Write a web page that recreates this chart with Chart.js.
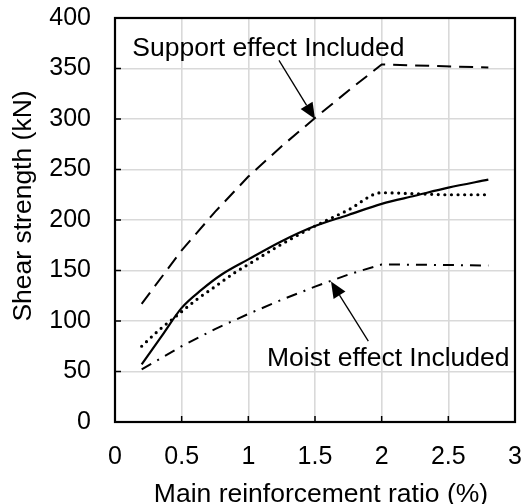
<!DOCTYPE html>
<html>
<head>
<meta charset="utf-8">
<script src="https://cdn.jsdelivr.net/npm/chart.js@4.4.0/dist/chart.umd.min.js"></script>
<style>
  body { margin: 0; background: #fff; }
  canvas { display: block; }
</style>
</head>
<body>
<canvas id="myChart" width="522" height="504"></canvas>
<script>
// values
const ratioSupport = [0.2, 0.5, 0.75, 1, 1.25, 1.5, 1.75, 2, 2.8];
const strengthSupport = [117, 170, 208, 243, 273, 301, 328, 354, 351];

const ratioBase = [0.2, 0.35, 0.5, 0.65, 0.8, 1, 1.25, 1.5, 1.75, 2, 2.25, 2.5, 2.8];
const strengthBase = [57, 85, 113, 131, 146, 161, 179, 194, 205, 216, 224, 232, 240];

const ratioDot = [0.2, 0.33, 0.47, 0.61, 0.75, 0.9, 1, 1.25, 1.5, 1.75, 2, 2.25, 2.5, 2.8];
const strengthDot = [75, 91, 106, 121, 134, 148, 156, 176, 194, 210, 227, 226, 225, 225];

const ratioMoist = [0.2, 0.5, 0.75, 1, 1.25, 1.5, 1.75, 2, 2.8];
const strengthMoist = [52, 75, 92, 107, 121, 134, 146, 156, 155];

const xTicks = [0, 0.5, 1, 1.5, 2, 2.5, 3];
const yTicks = [0, 50, 100, 150, 200, 250, 300, 350, 400];

const xTitle = "Main reinforcement ratio (%)";
const yTitle = "Shear strength (kN)";

// annotations: [text, textX, textY, tailX, tailY, tipX, tipY] in data units
const notes = [
  ["Support effect Included", 0.13, 362, 1.23, 358, 1.5, 300],
  ["Moist effect Included", 1.14, 55, 1.9, 80, 1.62, 139],
];

const FONT = "'Liberation Sans', Arial, sans-serif";

function pts(xs, ys) {
  return xs.map((x, i) => ({ x: x, y: ys[i] }));
}

function noPadding(scale) {
  scale.paddingLeft = 0;
  scale.paddingRight = 0;
  scale.paddingTop = 0;
  scale.paddingBottom = 0;
}

const framePlugin = {
  id: "frame",
  afterDraw(chart) {
    const ctx = chart.ctx;
    const a = chart.chartArea;
    const xs = chart.scales.x;
    const ys = chart.scales.y;
    ctx.save();
    // inner tick marks
    ctx.strokeStyle = "#000";
    ctx.lineWidth = 1.5;
    ctx.beginPath();
    yTicks.forEach((v) => {
      const y = ys.getPixelForValue(v);
      ctx.moveTo(a.left, y);
      ctx.lineTo(a.left + 6, y);
    });
    xTicks.forEach((v) => {
      const x = xs.getPixelForValue(v);
      ctx.moveTo(x, a.bottom);
      ctx.lineTo(x, a.bottom - 6);
    });
    ctx.stroke();
    // plot frame
    ctx.lineWidth = 2.2;
    ctx.strokeRect(a.left, a.top, a.right - a.left, a.bottom - a.top);

    // axis titles
    ctx.fillStyle = "#000";
    ctx.font = "26.5px " + FONT;
    ctx.textAlign = "center";
    ctx.textBaseline = "alphabetic";
    ctx.fillText(xTitle, 321, 502);
    ctx.save();
    ctx.translate(24, 206);
    ctx.rotate(-Math.PI / 2);
    ctx.textBaseline = "middle";
    ctx.fillText(yTitle, 0, 0);
    ctx.restore();

    // annotations with arrows
    notes.forEach((n) => {
      ctx.textAlign = "left";
      ctx.textBaseline = "alphabetic";
      ctx.fillText(n[0], xs.getPixelForValue(n[1]), ys.getPixelForValue(n[2]));
      const x0 = xs.getPixelForValue(n[3]), y0 = ys.getPixelForValue(n[4]);
      const x1 = xs.getPixelForValue(n[5]), y1 = ys.getPixelForValue(n[6]);
      const ang = Math.atan2(y1 - y0, x1 - x0);
      const hl = 16, hw = 7;
      const bx = x1 - hl * Math.cos(ang), by = y1 - hl * Math.sin(ang);
      ctx.lineWidth = 1.3;
      ctx.beginPath();
      ctx.moveTo(x0, y0);
      ctx.lineTo(bx, by);
      ctx.stroke();
      ctx.beginPath();
      ctx.moveTo(x1, y1);
      ctx.lineTo(bx + hw * Math.sin(ang), by - hw * Math.cos(ang));
      ctx.lineTo(bx - hw * Math.sin(ang), by + hw * Math.cos(ang));
      ctx.closePath();
      ctx.fill();
    });
    ctx.restore();
  },
};

new Chart(document.getElementById("myChart").getContext("2d"), {
  type: "line",
  data: {
    datasets: [
      {
        data: pts(ratioSupport, strengthSupport),
        borderColor: "#000",
        borderWidth: 2,
        borderDash: [14, 8],
        tension: 0,
      },
      {
        data: pts(ratioBase, strengthBase),
        borderColor: "#000",
        borderWidth: 2.2,
        cubicInterpolationMode: "monotone",
      },
      {
        data: pts(ratioDot, strengthDot),
        borderColor: "#000",
        borderWidth: 3.2,
        borderDash: [0, 6.6],
        borderCapStyle: "round",
        cubicInterpolationMode: "monotone",
      },
      {
        data: pts(ratioMoist, strengthMoist),
        borderColor: "#000",
        borderWidth: 2,
        borderDash: [11, 7, 2, 7],
        tension: 0,
      },
    ],
  },
  options: {
    responsive: false,
    animation: false,
    layout: { padding: { left: 0, right: 7, top: 18, bottom: 0 } },
    elements: { point: { radius: 0 } },
    plugins: { legend: { display: false }, tooltip: { enabled: false } },
    scales: {
      x: {
        type: "linear",
        min: 0,
        max: 3,
        afterBuildTicks(scale) {
          scale.ticks = xTicks.map((v) => ({ value: v }));
        },
        afterFit(scale) {
          scale.height = 82;
          noPadding(scale);
        },
        grid: { color: "#d9d9d9", lineWidth: 1.6, drawTicks: false },
        border: { display: false },
        ticks: {
          color: "#000",
          font: { family: FONT, size: 25 },
          padding: 20,
          maxRotation: 0,
          callback: (v) => String(v),
        },
      },
      y: {
        min: 0,
        max: 400,
        afterBuildTicks(scale) {
          scale.ticks = yTicks.map((v) => ({ value: v }));
        },
        afterFit(scale) {
          scale.width = 115;
          noPadding(scale);
        },
        grid: { color: "#d9d9d9", lineWidth: 1.6, drawTicks: false },
        border: { display: false },
        ticks: {
          color: "#000",
          font: { family: FONT, size: 25 },
          padding: 24,
          callback: (v) => String(v),
        },
      },
    },
  },
  plugins: [framePlugin],
});
</script>
</body>
</html>
